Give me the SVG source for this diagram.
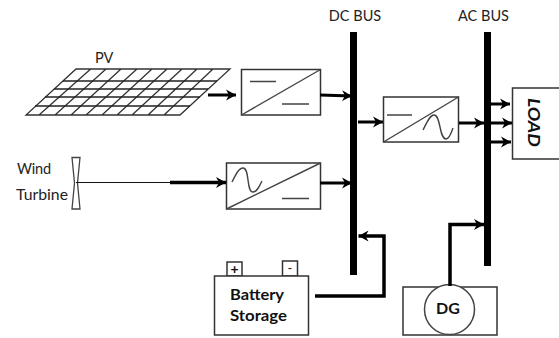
<svg xmlns="http://www.w3.org/2000/svg" width="559" height="338" viewBox="0 0 559 338">
<style>
text{font-family:"Lato","Noto Sans",sans-serif;font-size:14.5px;fill:#222}
.b{font-weight:700;fill:#111;font-size:16px}
.box{fill:#fff;stroke:#333;stroke-width:1.5}
.thin{fill:none;stroke:#444;stroke-width:1.4}
.pv{fill:none;stroke:#333;stroke-width:1.3}
.pvh{fill:none;stroke:#222;stroke-width:1.4}
.bus{fill:#000}
.w{fill:none;stroke:#000;stroke-width:3}
</style>
<defs>
<marker id="a" markerUnits="userSpaceOnUse" markerWidth="12" markerHeight="12" refX="10" refY="6" orient="auto">
<path d="M0,0.5 L10,6 L0,11.5 L3,6 Z" fill="#000"/>
</marker>
</defs>
<rect width="559" height="338" fill="#fff"/>
<g id="pv">
<text x="95" y="62.500">PV</text>
<path class="pv" d="M76,69H230L180,115H26ZM90.7,69L39,115M106,69L55,115M121,69L71,115M137,69L86,115M152,69L102,115M167,69L117,115M182,69L132,115M197,69L148,115M213,69L164,115"/>
<path class="pvh" d="M63,81H217M54,89H208M45,97H200M35,106H190"/>
</g>
<g id="converter1">
<rect class="box" x="241.500" y="69.500" width="79" height="45.500"/>
<path class="thin" d="M241.500,115L320.500,69.500M250,81.500H276M282,104H309"/>
</g>
<g id="converter2">
<rect class="box" x="226.500" y="163" width="94" height="46"/>
<path class="thin" d="M226.500,209L320.500,163M282,198.500H309M232,182C236,174 239,168 243,168C250,168 246,192 253,192C257,192 259,187 262,181"/>
</g>
<g id="converter3">
<rect class="box" x="383.500" y="97" width="75" height="45"/>
<path class="thin" d="M383.500,142L458.500,97M387,115H412M423,130C427,122 430,115 434,115C441,115 439,139 446,139C449,139 451,134 453,128"/>
</g>
<g id="wind-turbine">
<text x="17" y="174" textLength="34">Wind</text>
<text x="16" y="200" textLength="52" lengthAdjust="spacingAndGlyphs">Turbine</text>
<path d="M72,157.500H80L77.500,183L80,209H72L74.500,183Z" fill="#fff" stroke="#444" stroke-width="1.300"/>
</g>
<g id="load">
<rect class="box" x="512.500" y="88" width="50" height="71"/>
<text class="b" transform="translate(527.500,98) rotate(90)" textLength="49" lengthAdjust="spacingAndGlyphs" style="font-style:italic;font-size:17px">LOAD</text>
</g>
<g id="battery">
<rect class="box" x="227" y="262" width="15" height="14"/>
<rect class="box" x="282.500" y="261" width="15" height="15"/>
<text x="234.500" y="274" text-anchor="middle" style="font-size:14px;font-weight:700;fill:#111">+</text>
<text x="290" y="273" text-anchor="middle" style="font-size:13px">-</text>
<rect class="box" x="214.500" y="276" width="94" height="59"/>
<text class="b" x="230" y="300" textLength="54" lengthAdjust="spacingAndGlyphs">Battery</text>
<text class="b" x="230" y="321" textLength="57" lengthAdjust="spacingAndGlyphs">Storage</text>
</g>
<g id="dg">
<rect class="box" x="403" y="287" width="94" height="48"/>
<circle cx="449.500" cy="309.500" r="25" fill="#fff" stroke="#444" stroke-width="1.500"/>
<text class="b" x="448" y="314" text-anchor="middle">DG</text>
</g>
<g id="dc-bus">
<rect class="bus" x="350" y="32" width="7" height="243"/>
<text x="355" y="21" text-anchor="middle">DC BUS</text>
</g>
<g id="ac-bus">
<rect class="bus" x="484" y="32" width="7" height="234"/>
<text x="483.500" y="21" text-anchor="middle">AC BUS</text>
</g>
<g id="connectors">
<path class="w" marker-end="url(#a)" d="M208,95H236"/>
<path class="w" marker-end="url(#a)" d="M320,95L352,96"/>
<path d="M76,182.500H170" fill="none" stroke="#111" stroke-width="1.200"/>
<path class="w" style="stroke-width:3.500" marker-end="url(#a)" d="M170,182.500H226"/>
<path class="w" marker-end="url(#a)" d="M320,183H352"/>
<path class="w" marker-end="url(#a)" d="M358,122H383"/>
<path class="w" marker-end="url(#a)" d="M459,123H484"/>
<path class="w" marker-end="url(#a)" d="M489,104H510"/>
<path class="w" marker-end="url(#a)" d="M489,123H512"/>
<path class="w" marker-end="url(#a)" d="M489,142H511"/>
<path class="w" style="stroke-width:3.500" marker-end="url(#a)" d="M315,296H384V236H358.500"/>
<path class="w" style="stroke-width:3.500" marker-end="url(#a)" d="M450,286V224.500H484"/>
</g>
</svg>
